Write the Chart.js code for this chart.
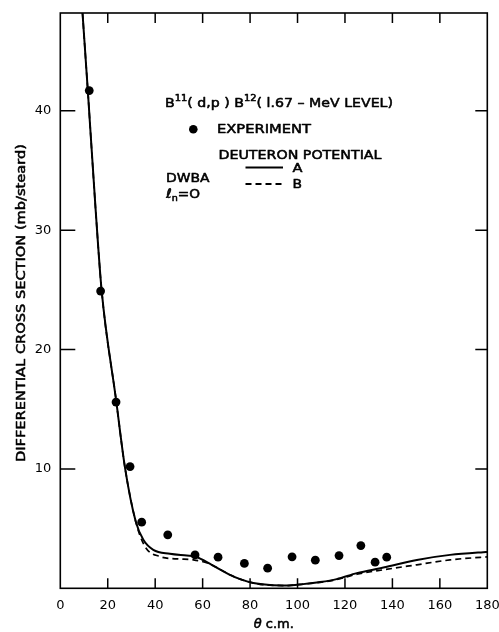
<!DOCTYPE html>
<html>
<head>
<meta charset="utf-8">
<script src="https://cdn.jsdelivr.net/npm/chart.js@4/dist/chart.umd.min.js"></script>
<style>
  html, body { margin: 0; padding: 0; background: #fff; }
  #wrap { width: 499px; height: 632px; position: relative; }
</style>
</head>
<body>
<div id="wrap"><canvas id="c"></canvas></div>
<script>
// ---- Data ----
const xTicks = [0, 20, 40, 60, 80, 100, 120, 140, 160, 180];
const yTicks = [10, 20, 30, 40];

// Experiment (theta c.m. in degrees, cross section in mb/sterad)
const expTheta = [12.2, 17.0, 23.5, 29.4, 34.3, 45.3, 56.8, 66.5, 77.6, 87.4, 97.7, 107.5, 117.5, 126.7, 132.7, 137.6];
const expSigma = [41.7, 24.9, 15.6, 10.2, 5.54, 4.48, 2.80, 2.61, 2.08, 1.69, 2.64, 2.36, 2.74, 3.58, 2.19, 2.61];

// DWBA, deuteron potential A (solid)
const aTheta = [8, 9.4, 11.6, 14.9, 17.45, 23.5, 27.2, 31.8, 35.0, 39.2, 46.2, 53.3, 56.8, 64.0, 71.5, 75.8, 81.4, 88.4, 95.4, 102.4, 109.5, 116.5, 125.0, 136.2, 150.3, 164.3, 178.3, 180];
const aSigma = [52.4, 48.1, 41.7, 31.7, 24.9, 15.8, 10.2, 5.59, 4.06, 3.22, 2.89, 2.74, 2.66, 1.95, 1.13, 0.77, 0.44, 0.27, 0.23, 0.35, 0.52, 0.77, 1.27, 1.74, 2.38, 2.80, 3.03, 3.05];

// DWBA, deuteron potential B (dashed)
const bTheta = [8, 9.4, 11.6, 14.9, 17.45, 23.5, 27.2, 31.8, 35.7, 42.0, 49.1, 56.1, 62.0, 64.0, 71.5, 75.8, 81.4, 88.4, 95.4, 102.4, 109.5, 116.5, 125.0, 136.2, 150.3, 164.3, 178.2, 180];
const bSigma = [52.4, 48.1, 41.7, 31.7, 24.9, 15.8, 10.2, 5.59, 3.50, 2.66, 2.47, 2.38, 2.12, 1.95, 1.13, 0.77, 0.44, 0.27, 0.23, 0.35, 0.50, 0.73, 1.18, 1.55, 1.97, 2.38, 2.61, 2.63];

const toXY = (xs, ys) => xs.map((x, i) => ({ x: x, y: ys[i] }));

const FONT = '"DejaVu Sans", "Liberation Sans", sans-serif';
const STROKE = 0.55;

// draw text horizontally scaled to a target width
function fitText(ctx, text, x, y, w, size, align) {
  ctx.save();
  ctx.font = size + 'px ' + FONT;
  const m = ctx.measureText(text).width;
  const s = w / m;
  ctx.translate(x, y);
  ctx.scale(s, 1);
  ctx.textBaseline = 'middle';
  ctx.textAlign = 'left';
  ctx.lineWidth = STROKE;
  ctx.lineJoin = 'round';
  const ox = align === 'center' ? -m / 2 : 0;
  ctx.fillText(text, ox, 0);
  ctx.strokeText(text, ox, 0);
  ctx.restore();
}

// draw segments with superscript / subscript, fitted to width
function fitSegments(ctx, segs, x, y, w, size) {
  ctx.save();
  const widths = segs.map(s => {
    ctx.font = (s.sup || s.sub ? size * 0.7 : size) + 'px ' + FONT;
    return ctx.measureText(s.t).width;
  });
  const total = widths.reduce((a, b) => a + b, 0);
  const sc = w / total;
  ctx.translate(x, y);
  ctx.scale(sc, 1);
  ctx.textBaseline = 'middle';
  ctx.textAlign = 'left';
  ctx.lineWidth = STROKE;
  ctx.lineJoin = 'round';
  let cx = 0;
  segs.forEach((s, i) => {
    ctx.font = (s.sup || s.sub ? size * 0.7 : size) + 'px ' + FONT;
    const dy = s.sup ? -size * 0.42 : (s.sub ? size * 0.25 : 0);
    ctx.fillText(s.t, cx, dy);
    ctx.strokeText(s.t, cx, dy);
    cx += widths[i];
  });
  ctx.restore();
}

const framePlugin = {
  id: 'frame',
  afterDraw(chart) {
    const ctx = chart.ctx;
    const a = chart.chartArea;
    const xs = chart.scales.x, ys = chart.scales.y;
    ctx.save();
    ctx.strokeStyle = '#000';
    ctx.fillStyle = '#000';
    ctx.lineWidth = 1.6;
    ctx.strokeRect(a.left, a.top, a.right - a.left, a.bottom - a.top);
    // inward tick marks
    ctx.lineWidth = 1.5;
    ctx.beginPath();
    xTicks.forEach(v => {
      if (v === 0 || v === 180) return;
      const px = xs.getPixelForValue(v);
      ctx.moveTo(px, a.bottom); ctx.lineTo(px, a.bottom - 10);
      ctx.moveTo(px, a.top); ctx.lineTo(px, a.top + 10);
    });
    yTicks.forEach(v => {
      const py = ys.getPixelForValue(v);
      ctx.moveTo(a.left, py); ctx.lineTo(a.left + 15, py);
      ctx.moveTo(a.right, py); ctx.lineTo(a.right - 12, py);
    });
    ctx.stroke();

    // axis titles
    ctx.save();
    ctx.translate(22, 303);
    ctx.rotate(-Math.PI / 2);
    fitText(ctx, 'DIFFERENTIAL CROSS SECTION (mb/steard)', 0, 0, 318, 13, 'center');
    ctx.restore();
    // x title: italic theta + c.m.
    ctx.save();
    ctx.textBaseline = 'middle';
    ctx.lineWidth = STROKE;
    ctx.font = 'italic 13px ' + FONT;
    const wT = ctx.measureText('θ').width;
    ctx.font = '13px ' + FONT;
    const wR = ctx.measureText(' c.m.').width;
    const sx = (a.left + a.right) / 2 - (wT + wR) / 2;
    ctx.font = 'italic 13px ' + FONT;
    ctx.fillText('θ', sx, 625);
    ctx.strokeText('θ', sx, 625);
    ctx.font = '13px ' + FONT;
    ctx.fillText(' c.m.', sx + wT, 625);
    ctx.strokeText(' c.m.', sx + wT, 625);
    ctx.restore();

    // annotation block
    fitSegments(ctx, [
      { t: 'B' }, { t: '11', sup: true }, { t: '( d,p ) B' }, { t: '12', sup: true }, { t: '( l.67 – MeV LEVEL)' }
    ], 165, 104, 228, 13);
    ctx.beginPath();
    ctx.arc(193.3, 129.3, 4.3, 0, Math.PI * 2);
    ctx.fill();
    fitText(ctx, 'EXPERIMENT', 217, 129.5, 94, 13);
    fitText(ctx, 'DEUTERON POTENTIAL', 218.5, 155.5, 163, 13);
    ctx.lineWidth = 1.8;
    ctx.beginPath();
    ctx.moveTo(245.5, 167.5); ctx.lineTo(283, 167.5);
    ctx.stroke();
    ctx.setLineDash([6, 4]);
    ctx.beginPath();
    ctx.moveTo(245.5, 184); ctx.lineTo(283, 184);
    ctx.stroke();
    ctx.setLineDash([]);
    fitText(ctx, 'A', 292.5, 168.5, 10, 13);
    fitText(ctx, 'B', 292.5, 185, 9.5, 13);
    fitText(ctx, 'DWBA', 166, 178.5, 43.5, 13);
    fitSegments(ctx, [
      { t: 'ℓ' }, { t: 'n', sub: true }, { t: '=O' }
    ], 166, 195, 34, 13);
    ctx.restore();
  }
};

const ctx = document.getElementById('c').getContext('2d');
new Chart(ctx, {
  type: 'scatter',
  data: {
    datasets: [
      {
        label: 'Experiment',
        data: toXY(expTheta, expSigma),
        pointRadius: 4.4,
        pointHoverRadius: 4.4,
        backgroundColor: '#000',
        borderWidth: 0,
        showLine: false,
        order: 0
      },
      {
        label: 'A',
        type: 'line',
        data: toXY(aTheta, aSigma),
        borderColor: '#000',
        borderWidth: 2,
        pointRadius: 0,
        fill: false,
        cubicInterpolationMode: 'monotone',
        order: 1
      },
      {
        label: 'B',
        type: 'line',
        data: toXY(bTheta, bSigma),
        borderColor: '#000',
        borderWidth: 1.7,
        borderDash: [6, 4],
        pointRadius: 0,
        fill: false,
        cubicInterpolationMode: 'monotone',
        order: 2
      }
    ]
  },
  options: {
    responsive: true,
    maintainAspectRatio: false,
    animation: false,
    events: [],
    layout: { padding: { top: 13, right: 11.7, left: 0, bottom: 0 } },
    plugins: {
      legend: { display: false },
      tooltip: { enabled: false },
      title: { display: false }
    },
    scales: {
      x: {
        type: 'linear',
        min: 0, max: 180,
        afterBuildTicks: s => { s.ticks = xTicks.map(v => ({ value: v })); },
        afterFit: s => { s.height = 43.7; s.paddingLeft = 0; s.paddingRight = 0; },
        ticks: { color: '#000', font: { family: FONT, size: 13 }, padding: 10, maxRotation: 0, autoSkip: false },
        grid: { display: false, drawTicks: false },
        border: { display: false }
      },
      y: {
        type: 'linear',
        min: 0, max: 48.2,
        afterBuildTicks: s => { s.ticks = yTicks.map(v => ({ value: v })); },
        afterFit: s => { s.width = 60.3; s.paddingTop = 0; s.paddingBottom = 0; },
        ticks: { color: '#000', font: { family: FONT, size: 13 }, padding: 9, autoSkip: false },
        grid: { display: false, drawTicks: false },
        border: { display: false }
      }
    }
  },
  plugins: [framePlugin]
});
</script>
</body>
</html>
